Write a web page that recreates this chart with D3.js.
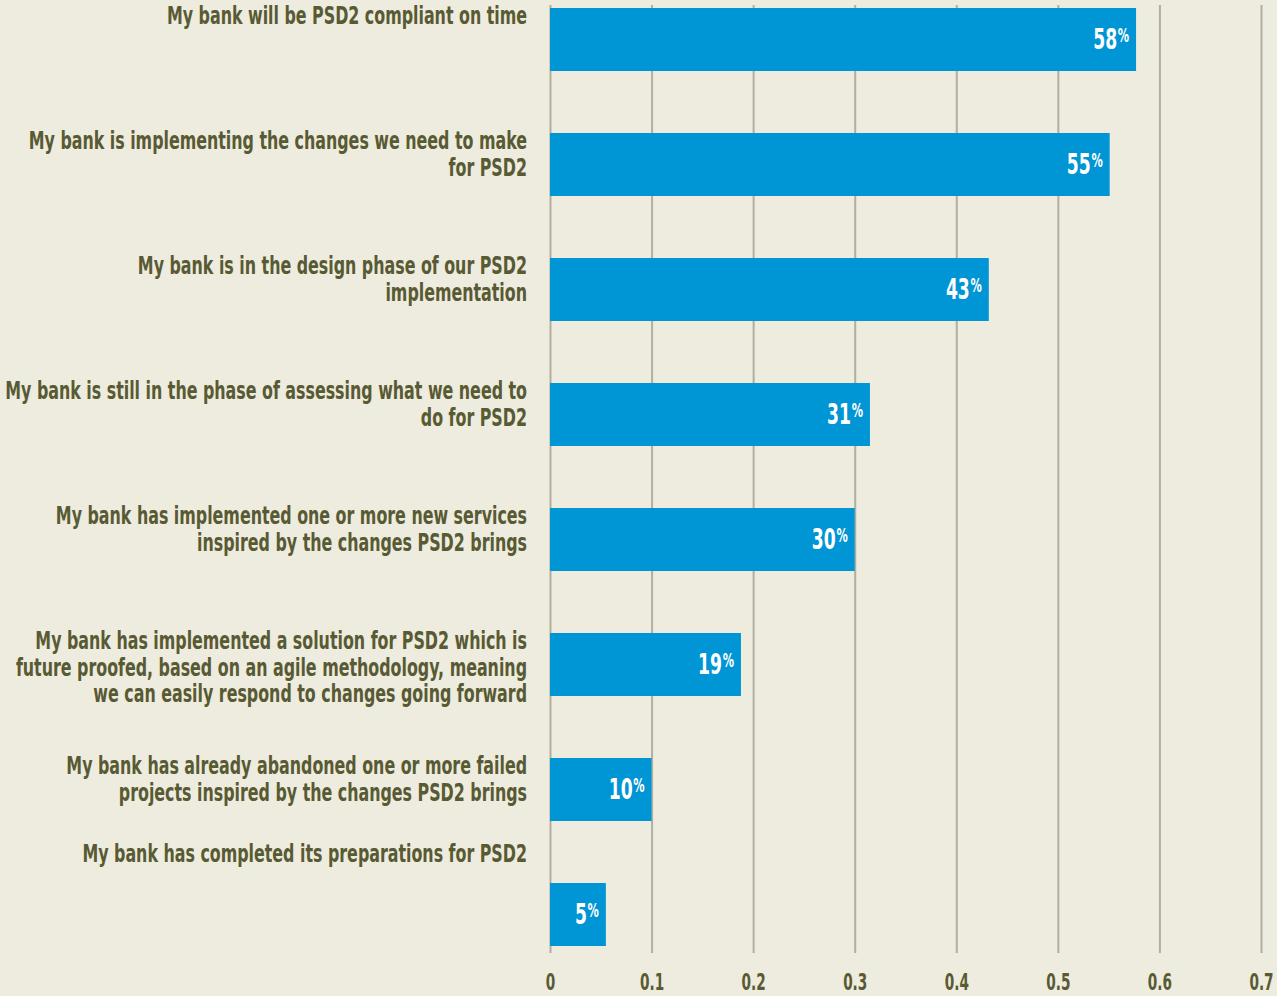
<!DOCTYPE html>
<html lang="en">
<head>
    <meta charset="UTF-8">
    <title>PSD2 readiness</title>
    <script src="https://cdnjs.cloudflare.com/ajax/libs/d3/7.8.5/d3.min.js"></script>
    <style>
        html, body {
            margin: 0;
            padding: 0;
            background: #eeebdf;
        }
        .chart text {
            font-family: "DejaVu Sans Condensed", "DejaVu Sans", sans-serif;
            font-weight: bold;
        }
        .label {
            fill: #585a33;
            font-size: 24px;
            text-anchor: end;
        }
        .value {
            fill: #ffffff;
            font-size: 29px;
            text-anchor: end;
        }
        .axis text {
            fill: #585a33;
            font-size: 23px;
        }
        .axis path {
            display: none;
        }
        .axis line {
            stroke: #b1af9f;
            stroke-width: 2;
        }
    </style>
</head>
<body>
    <svg class="chart"></svg>
    <script>
        const categories = [
            "My bank will be PSD2 compliant on time",
            "My bank is implementing the changes we need to make\nfor PSD2",
            "My bank is in the design phase of our PSD2\nimplementation",
            "My bank is still in the phase of assessing what we need to\ndo for PSD2",
            "My bank has implemented one or more new services\ninspired by the changes PSD2 brings",
            "My bank has implemented a solution for PSD2 which is\nfuture proofed, based on an agile methodology, meaning\nwe can easily respond to changes going forward",
            "My bank has already abandoned one or more failed\nprojects inspired by the changes PSD2 brings",
            "My bank has completed its preparations for PSD2"
        ];
        const shares = [0.577, 0.551, 0.432, 0.315, 0.30, 0.188, 0.10, 0.055];
        const valueLabels = ["58", "55", "43", "31", "30", "19", "10", "5"];
        const xTicks = [0, 0.1, 0.2, 0.3, 0.4, 0.5, 0.6, 0.7];

        const W = 1277, H = 996;
        const plotLeft = 550, plotRight = 1261, plotTop = 5, plotBottom = 953;
        const labelRight = 527;
        // the reference face is narrower than DejaVu Condensed, squeeze it
        const labelSqueeze = 0.735, numSqueeze = 0.66;

        const svg = d3.select('.chart')
            .attr('width', W)
            .attr('height', H);

        const x = d3.scaleLinear()
            .domain([0, 0.7])
            .range([plotLeft, plotRight]);

        const y = d3.scaleBand()
            .domain(d3.range(categories.length))
            .range([8, 946])
            .paddingInner(0.496)
            .paddingOuter(0);

        // gridlines + tick labels
        const xAxis = d3.axisBottom(x)
            .tickValues(xTicks)
            .tickSize(-(plotBottom - plotTop))
            .tickPadding(21)
            .tickFormat(d => d === 0 ? "0" : d3.format(".1f")(d));

        const gx = svg.append('g')
            .attr('class', 'x axis')
            .attr('transform', `translate(0, ${plotBottom})`)
            .call(xAxis);
        gx.selectAll('text')
            .attr('transform', `scale(${numSqueeze}, 1)`);

        // bars
        svg.append('g')
            .selectAll('rect')
            .data(shares)
            .join('rect')
            .attr('x', x(0))
            .attr('y', (d, i) => y(i))
            .attr('width', d => x(d) - x(0))
            .attr('height', y.bandwidth())
            .attr('fill', '#0095d4');

        // value labels
        const val = svg.append('g')
            .selectAll('text')
            .data(shares)
            .join('text')
            .attr('class', 'value')
            .attr('transform', (d, i) =>
                `translate(${x(d) - 7}, ${y(i) + y.bandwidth() / 2 + 9.5}) scale(${numSqueeze}, 1)`);
        val.append('tspan').text((d, i) => valueLabels[i]);
        val.append('tspan')
            .attr('font-size', 19)
            .attr('dx', 1)
            .attr('dy', -7)
            .text('%');

        // category labels, first line set near the top of each bar
        const lab = svg.append('g')
            .selectAll('text')
            .data(categories)
            .join('text')
            .attr('class', 'label')
            .attr('transform', (d, i) => {
                const base = i === categories.length - 1 ? y(i) - 21 : y(i) + 16;
                return `translate(${labelRight}, ${base}) scale(${labelSqueeze}, 1)`;
            });
        lab.selectAll('tspan')
            .data(d => d.split('\n'))
            .join('tspan')
            .attr('x', 0)
            .attr('dy', (d, j) => j === 0 ? 0 : 26.7)
            .text(d => d);
    </script>
</body>
</html>
